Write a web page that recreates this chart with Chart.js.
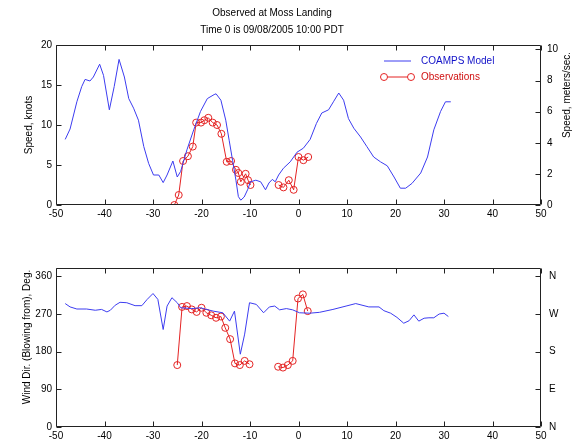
<!DOCTYPE html>
<html>
<head>
<meta charset="utf-8">
<script src="https://cdn.jsdelivr.net/npm/chart.js@4"></script>
<style>
  body { margin: 0; background: #fff; }
  #wrap { position: relative; width: 573px; height: 445px; }
  canvas { position: absolute; left: 0; }
</style>
</head>
<body>
<div id="wrap">
  <canvas id="speed" width="573" height="225" style="top:0"></canvas>
  <canvas id="dir" width="573" height="220" style="top:225px"></canvas>
</div>
<script>
// hours relative to 09/08/2005 10:00 PDT
const modelSpeedHours = [-48.1, -47.1, -45.7, -44.7, -44.0, -43.0, -42.3, -41.0, -40.2, -39.0, -38.0, -37.0,
  -35.9, -35.0, -34.0, -33.0, -31.9, -30.9, -29.9, -28.8, -27.9, -27.1, -25.9, -25.0, -24.3, -23.0, -21.6,
  -20.2, -18.8, -17.4, -17.0, -16.0, -15.0, -14.3, -13.6, -12.9, -12.4, -11.9, -11.2, -10.5, -9.9, -8.8,
  -7.8, -6.8, -6.1, -5.4, -4.8, -4.1, -3.1, -1.7, -0.3, 1.0, 2.4, 3.7, 4.8, 6.2, 7.2, 8.3, 9.3, 10.3, 11.4,
  12.8, 14.1, 15.5, 16.9, 18.3, 19.7, 21.0, 22.1, 23.4, 25.2, 26.6, 27.9, 29.3, 30.3, 31.4];
const modelSpeedKnots = [8.2, 9.5, 12.9, 14.8, 15.7, 15.5, 16.0, 17.6, 16.2, 11.9, 14.8, 18.2,
  16.0, 13.3, 12.1, 10.6, 7.3, 5.2, 3.75, 3.75, 2.8, 3.75, 5.5, 3.5, 4.2, 6.9, 9.4,
  11.7, 13.3, 13.8, 13.9, 13.1, 10.6, 8.1, 5.6, 3.1, 1.05, 0.6, 1.0, 1.9, 2.9, 3.1,
  2.9, 1.9, 2.75, 3.2, 2.9, 3.75, 4.6, 5.4, 6.6, 7.1, 8.2, 10.2, 11.5, 11.9, 12.9, 14.0, 13.1, 10.8, 9.6,
  8.5, 7.3, 6.0, 5.4, 4.9, 3.5, 2.1, 2.1, 2.7, 4.0, 6.0, 9.4, 11.7, 12.9, 12.9];

const obsSpeedHours = [-25.6, -24.7, -23.8, -22.8, -21.8, -21.1, -20.1, -19.4, -18.6, -17.7, -16.8, -15.9,
  -14.8, -13.9, -12.9, -12.4, -11.9, -10.9, -10.4, -9.9, -7.0, -4.1, -3.1, -2.0, -1.0, 0.0, 1.0, 2.0];
const obsSpeedKnots = [0.0, 1.25, 5.5, 6.1, 7.3, 10.3, 10.3, 10.6, 10.9, 10.3, 10.0, 8.9,
  5.4, 5.5, 4.4, 4.0, 2.9, 3.9, 3.1, 2.5, null, 2.5, 2.2, 3.1, 1.9, 6.0, 5.6, 6.0];

const modelDirHours = [-48.1, -47.1, -45.7, -43.7, -41.9, -40.6, -39.5, -38.8, -37.8, -36.8, -35.4, -33.7,
  -32.3, -31.2, -30.0, -29.0, -27.9, -27.1, -26.1, -25.0, -24.3, -22.0, -20.3, -17.6, -15.6, -14.2, -13.2,
  -12.0, -11.1, -10.1, -8.7, -7.2, -6.0, -4.9, -3.9, -2.5, -1.2, 0.2, 2.3, 4.3, 7.1, 9.8, 11.8, 14.5, 16.6,
  17.6, 19.0, 20.3, 21.7, 22.8, 23.8, 24.8, 25.9, 26.9, 27.9, 29.0, 30.0, 30.9];
const modelDirDeg = [295, 287, 282, 282, 279, 281, 275, 279, 291, 298, 297, 290,
  290, 305, 319, 305, 233, 289, 309, 297, 285, 283, 285, 277, 273, 253, 277,
  174, 222, 297, 293, 273, 287, 289, 280, 283, 280, 273, 272, 274, 281, 289, 295, 287, 287,
  278, 272, 262, 248, 254, 268, 253, 260, 261, 261, 270, 272, 264];

const obsDirHours = [-25.0, -24.0, -23.0, -22.0, -21.0, -20.0, -19.0, -18.0, -17.0, -16.0, -15.1, -14.1,
  -13.1, -12.1, -11.1, -10.1, -7.0, -4.2, -3.2, -2.2, -1.2, -0.1, 0.9, 1.9];
const obsDirDeg = [148, 287, 289, 281, 275, 285, 273, 267, 261, 264, 237, 210,
  152, 148, 158, 150, null, 144, 142, 148, 158, 307, 317, 277];

const hourTicks = [-50, -40, -30, -20, -10, 0, 10, 20, 30, 40, 50];
const knotTicks = [0, 5, 10, 15, 20];
const msTicks = [0, 2, 4, 6, 8, 10];
const dirTicks = [0, 90, 180, 270, 360];
const compassLabels = ['N', 'E', 'S', 'W', 'N'];

const KNOT_TO_MS = 0.5144;
const BLUE = '#3c3cf0';
const RED = '#e42323';

Chart.defaults.font.family = '"Liberation Sans", Arial, sans-serif';
Chart.defaults.font.size = 10;
Chart.defaults.color = '#000';

const pts = (xs, ys) => xs.map((x, i) => ({ x: x, y: ys[i] }));
const fixTicks = list => s => { s.ticks = list.map(v => ({ value: v })); };

// box, inward tick marks and free text
const framePlugin = {
  id: 'frame',
  afterDraw(chart, args, opts) {
    const { ctx, chartArea: a, scales } = chart;
    const L = Math.round(a.left) + 0.5, R = Math.round(a.right) - 0.5;
    const T = Math.round(a.top) + 0.5, B = Math.round(a.bottom) - 0.5;
    ctx.save();
    ctx.strokeStyle = '#222';
    ctx.lineWidth = 1;
    ctx.beginPath();
    ctx.rect(L, T, R - L, B - T);
    scales.x.ticks.forEach(t => {
      const p = Math.round(scales.x.getPixelForValue(t.value)) + 0.5;
      ctx.moveTo(p, B); ctx.lineTo(p, B - 5);
      ctx.moveTo(p, T); ctx.lineTo(p, T + 5);
    });
    scales.y.ticks.forEach(t => {
      const p = Math.round(scales.y.getPixelForValue(t.value)) + 0.5;
      ctx.moveTo(L, p); ctx.lineTo(L + 5, p);
    });
    scales.y2.ticks.forEach(t => {
      const p = Math.round(scales.y2.getPixelForValue(t.value)) + 0.5;
      ctx.moveTo(R, p); ctx.lineTo(R - 5, p);
    });
    ctx.stroke();

    ctx.textAlign = 'center';
    ctx.textBaseline = 'middle';
    ctx.font = '10px "Liberation Sans", Arial, sans-serif';
    (opts.texts || []).forEach(t => {
      ctx.save();
      ctx.translate(t.x, t.y);
      ctx.rotate(t.rot || 0);
      ctx.fillStyle = '#000';
      ctx.fillText(t.text, 0, 0);
      ctx.restore();
    });

    if (opts.legend) {
      const lg = opts.legend;
      ctx.textAlign = 'left';
      ctx.lineWidth = 1;
      // model entry
      ctx.strokeStyle = BLUE;
      ctx.beginPath();
      ctx.moveTo(lg.x0, lg.y); ctx.lineTo(lg.x1, lg.y);
      ctx.stroke();
      ctx.fillStyle = '#1010c8';
      ctx.fillText(chart.data.datasets[0].label, lg.tx, lg.y);
      // observations entry
      const y2 = lg.y + lg.dy;
      ctx.strokeStyle = RED;
      ctx.beginPath();
      ctx.moveTo(lg.x0 + 3.5, y2); ctx.lineTo(lg.x1 - 3.5, y2);
      ctx.moveTo(lg.x0 + 3.5, y2); ctx.arc(lg.x0, y2, 3.5, 0, Math.PI * 2);
      ctx.moveTo(lg.x1 + 3.5, y2); ctx.arc(lg.x1, y2, 3.5, 0, Math.PI * 2);
      ctx.stroke();
      ctx.fillStyle = '#d01010';
      ctx.fillText(chart.data.datasets[1].label, lg.tx, y2);
    }
    ctx.restore();
  }
};

const modelStyle = {
  borderColor: BLUE, borderWidth: 1, pointRadius: 0, tension: 0, fill: false
};
const obsStyle = {
  borderColor: RED, borderWidth: 1, pointRadius: 3.5, pointStyle: 'circle',
  pointBorderColor: RED, pointBackgroundColor: 'rgba(0,0,0,0)', pointBorderWidth: 1,
  tension: 0, fill: false, spanGaps: false
};

const noGrid = { display: false, drawTicks: false };

const xScale = height => ({
  type: 'linear', min: -50, max: 50,
  afterBuildTicks: fixTicks(hourTicks),
  ticks: { padding: 3, maxRotation: 0 },
  grid: noGrid, border: { display: false },
  afterFit: s => { s.height = height; }
});

const yScale = (pos, max, list, pad, width, cb) => ({
  position: pos, min: 0, max: max,
  afterBuildTicks: fixTicks(list),
  ticks: cb ? { padding: pad, callback: cb } : { padding: pad },
  grid: noGrid, border: { display: false },
  afterFit: s => { s.width = width; }
});

const baseOptions = {
  responsive: false, maintainAspectRatio: false, animation: false,
  devicePixelRatio: 1,
  plugins: { legend: { display: false }, tooltip: { enabled: false } }
};

new Chart(document.getElementById('speed'), {
  type: 'line',
  data: {
    datasets: [
      Object.assign({ label: 'COAMPS Model', data: pts(modelSpeedHours, modelSpeedKnots) }, modelStyle),
      Object.assign({ label: 'Observations', data: pts(obsSpeedHours, obsSpeedKnots) }, obsStyle)
    ]
  },
  options: Object.assign({}, baseOptions, {
    layout: { padding: { top: 45, left: 0, right: 0, bottom: 0 } },
    scales: {
      x: xScale(20),
      y: yScale('left', 20, knotTicks, 4, 56),
      y2: yScale('right', 20 * KNOT_TO_MS, msTicks, 6, 32)
    },
    plugins: Object.assign({}, baseOptions.plugins, {
      frame: {
        texts: [
          { text: 'Observed at Moss Landing', x: 272, y: 13 },
          { text: 'Time 0 is 09/08/2005 10:00 PDT', x: 272, y: 30 },
          { text: 'Speed, knots', x: 29, y: 125, rot: -Math.PI / 2 },
          { text: 'Speed, meters/sec.', x: 567, y: 95, rot: -Math.PI / 2 }
        ],
        legend: { x0: 384, x1: 411, tx: 421, y: 61, dy: 16 }
      }
    })
  }),
  plugins: [framePlugin]
});

new Chart(document.getElementById('dir'), {
  type: 'line',
  data: {
    datasets: [
      Object.assign({ label: 'COAMPS Model', data: pts(modelDirHours, modelDirDeg) }, modelStyle),
      Object.assign({ label: 'Observations', data: pts(obsDirHours, obsDirDeg) }, obsStyle)
    ]
  },
  options: Object.assign({}, baseOptions, {
    layout: { padding: { top: 43, left: 0, right: 0, bottom: 0 } },
    scales: {
      x: xScale(18),
      y: yScale('left', 380, dirTicks, 4, 56),
      y2: yScale('right', 380, dirTicks, 8, 32, v => compassLabels[dirTicks.indexOf(v)])
    },
    plugins: Object.assign({}, baseOptions.plugins, {
      frame: {
        texts: [
          { text: 'Wind Dir. (Blowing from), Deg.', x: 27, y: 112, rot: -Math.PI / 2 }
        ]
      }
    })
  }),
  plugins: [framePlugin]
});
</script>
</body>
</html>
